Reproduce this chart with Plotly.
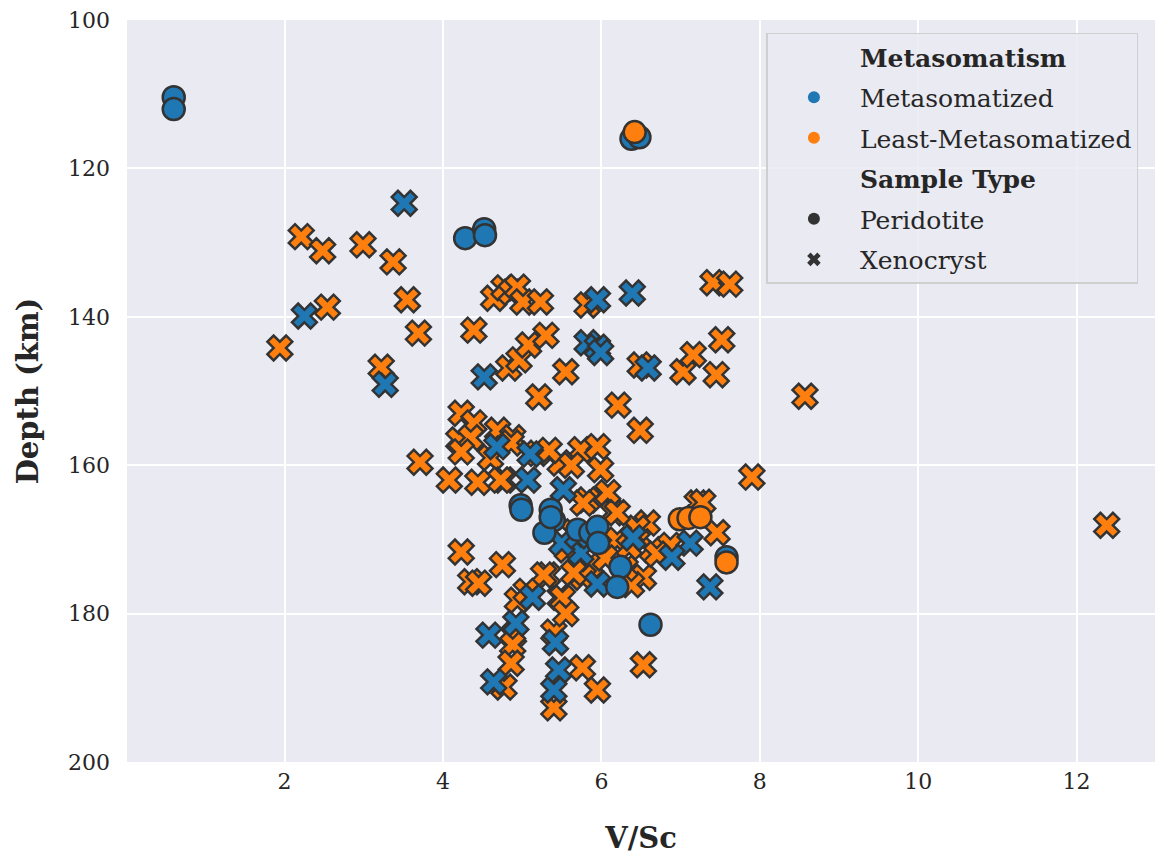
import plotly.graph_objects as go

# ---- data ----
perid_meta_x = [0.6, 0.6, 4.28, 4.52, 4.53, 6.38, 6.48, 4.98, 4.99, 5.36, 5.40, 5.28, 5.70, 5.86, 5.95, 5.96, 6.24, 6.20, 6.62, 7.58, 5.36]
perid_meta_y = [110.4, 112.0, 129.4, 128.2, 129.0, 116.0, 115.8, 165.4, 166.0, 166.0, 167.4, 169.1, 168.7, 169.1, 168.3, 170.5, 173.7, 176.4, 181.5, 172.4, 167.0]

perid_least_x = [6.42, 6.99, 7.10, 7.25, 7.58]
perid_least_y = [115.1, 167.3, 167.1, 167.0, 173.1]

xeno_meta_x = [3.51, 2.25, 3.27, 4.52, 5.82, 5.95, 5.99, 5.95, 6.39, 6.59, 5.07, 5.52, 7.12, 7.37, 6.40,
               6.89, 5.13, 5.42, 4.92, 4.58, 4.64, 5.46, 5.40, 5.74, 5.95, 5.50, 4.68, 5.10, 5.70]
xeno_meta_y = [124.7, 139.9, 149.1, 148.1, 143.5, 144.1, 144.8, 137.7, 136.8, 146.9, 162.0, 163.3, 170.5, 176.4, 169.8,
               172.4, 177.8, 183.9, 181.3, 182.9, 189.2, 187.6, 190.3, 171.8, 176.0, 170.5, 157.5, 158.5, 169.5]

xeno_least_x = [2.21, 2.48, 2.99, 3.37, 2.54, 3.55, 3.69, 1.94, 3.22, 3.71,
                4.39, 4.83, 4.96, 5.08, 5.30, 5.55, 5.21,
                4.64, 4.77, 4.86, 4.94, 5.01, 5.23, 5.82,
                6.49, 7.03, 7.16, 7.41, 7.62, 7.52, 7.45, 8.57, 7.90, 12.38, 6.21, 6.49,
                4.23, 4.39, 4.69, 4.88, 4.20, 4.35, 4.23, 4.60, 4.08, 4.44, 4.77, 4.86, 5.19, 5.74, 5.95, 5.48, 5.99, 4.73, 5.82, 5.34, 5.62,
                7.21, 7.28, 7.46, 6.58, 6.64, 6.20, 6.87, 6.15, 6.08, 6.53, 6.38, 6.45, 6.70, 6.30,
                5.48, 5.32, 5.86, 5.57, 5.77, 5.77, 6.20, 6.05, 5.65, 6.35,
                4.23, 4.75, 4.35, 4.45, 5.27, 5.51, 5.65, 4.94, 5.40, 4.89, 4.88, 4.86, 4.77, 5.76, 5.95, 5.40, 6.53, 5.05, 5.55]
xeno_least_y = [129.2, 131.1, 130.3, 132.6, 138.7, 137.7, 142.2, 144.2, 146.8, 159.6,
                141.8, 146.9, 145.8, 143.8, 142.5, 147.4, 150.8,
                137.5, 136.1, 136.7, 136.0, 138.0, 138.0, 138.4,
                146.5, 147.4, 145.1, 135.4, 135.6, 143.1, 147.8, 150.7, 161.6, 168.1, 151.9, 155.3,
                153.0, 154.3, 155.3, 156.3, 156.6, 156.3, 158.2, 159.0, 162.0, 162.3, 162.0, 157.0, 158.4, 157.9, 157.5, 159.7, 160.6, 162.0, 164.7, 158.0, 160.0,
                165.1, 165.0, 169.1, 167.8, 171.4, 170.1, 170.8, 166.4, 163.7, 175.1, 176.1, 168.5, 172.0, 173.9,
                177.8, 174.8, 173.4, 171.4, 175.1, 165.1, 166.4, 172.5, 169.0, 171.0,
                171.7, 173.4, 175.7, 175.9, 174.8, 177.9, 174.5, 178.2, 182.5, 182.9, 184.2, 186.7, 189.9, 187.3, 190.3, 192.7, 186.9, 177.0, 180.0]

legend_labels = ["<b>Metasomatism</b>", "Metasomatized", "Least-Metasomatized",
                 "<b>Sample Type</b>", "Peridotite", "Xenocryst"]

BLUE = "#1f77b4"
ORANGE = "#ff7f0e"
EDGE = "#333333"
CLEAR = "rgba(0,0,0,0)"
FONT = "DejaVu Serif"

fig = go.Figure()

def add(xs, ys, color, symbol, size):
    fig.add_trace(go.Scatter(
        x=xs, y=ys, mode="markers", showlegend=False, hoverinfo="skip",
        marker=dict(color=color, symbol=symbol, size=size,
                    line=dict(color=EDGE, width=2.5))))

add(xeno_least_x, xeno_least_y, ORANGE, "x", 22)
add(xeno_meta_x, xeno_meta_y, BLUE, "x", 22)
add(perid_meta_x, perid_meta_y, BLUE, "circle", 22)
add(perid_least_x, perid_least_y, ORANGE, "circle", 22)

legend_styles = [(CLEAR, "circle"), (BLUE, "circle"), (ORANGE, "circle"),
                 (CLEAR, "circle"), (EDGE, "circle"), (EDGE, "x")]
for i, (name, (color, symbol)) in enumerate(zip(legend_labels, legend_styles)):
    fig.add_trace(go.Scatter(
        x=[None], y=[None], mode="markers", name=name, showlegend=True,
        legendgroup=f"g{i}",
        marker=dict(color=color, symbol=symbol, size=15, line=dict(width=0))))

fig.update_layout(
    width=1155, height=859,
    margin=dict(l=127, r=0, t=20, b=97),
    paper_bgcolor="white", plot_bgcolor="#EAEAF2",
    font=dict(family=FONT, color="#262626", size=22),
    legend=dict(x=0.622, y=0.983, xanchor="left", yanchor="top",
                bgcolor="rgba(234,234,242,0.85)", bordercolor="#CFCFCF", borderwidth=1.5,
                font=dict(size=25, family=FONT, color="#262626"),
                itemsizing="constant", itemwidth=82, tracegroupgap=5,
                traceorder="grouped"),
    xaxis=dict(range=[0.01, 12.99], tickvals=[2, 4, 6, 8, 10, 12], showgrid=True,
               gridcolor="white", gridwidth=1.5, zeroline=False, showline=False, ticks="",
               ticklabelstandoff=4,
               tickfont=dict(size=22), title=dict(text="<b>V/Sc</b>", font=dict(size=29), standoff=34)),
    yaxis=dict(range=[200, 100], tickvals=[100, 120, 140, 160, 180, 200], showgrid=True,
               gridcolor="white", gridwidth=1.5, zeroline=False, showline=False, ticks="",
               ticklabelstandoff=16,
               tickfont=dict(size=22), title=dict(text="<b>Depth (km)</b>", font=dict(size=29), standoff=20)),
)

fig.write_html("out.html")
